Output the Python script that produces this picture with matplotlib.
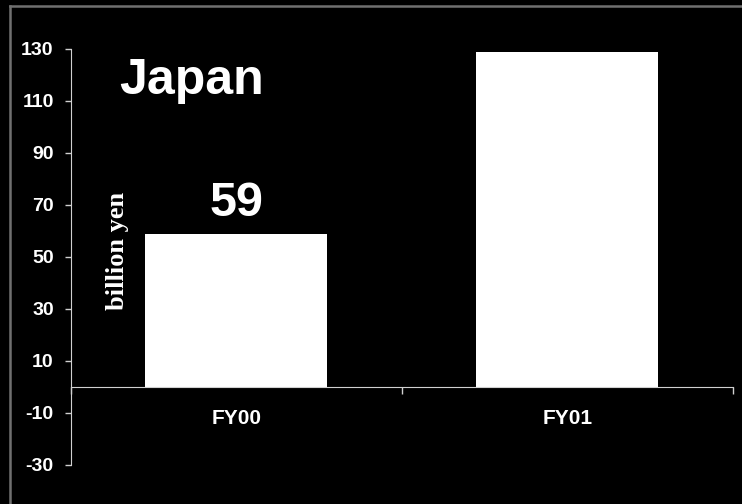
import numpy as np
import matplotlib
matplotlib.use("Agg")
import matplotlib.pyplot as plt
from matplotlib.lines import Line2D

# data
categories = ["FY00", "FY01"]
values = [59, 129]
y_ticks = [-30, -10, 10, 30, 50, 70, 90, 110, 130]
title_text = "Japan"
unit_text = "billion yen"

plt.rcParams["font.family"] = ["Liberation Sans", "DejaVu Sans"]
plt.rcParams["font.weight"] = "bold"

fig = plt.figure(figsize=(7.42, 5.04), dpi=100, facecolor="black")
ax = fig.add_axes([0.0957, 0.0774, 0.892, 0.8254], facecolor="black")

x = np.arange(len(categories))
ax.bar(x, values, width=0.55, color="white", edgecolor="none", zorder=2)

axis_col = "#d0d0d0"
ax.set_xlim(-0.5, len(categories) - 0.5)
ax.set_ylim(-30, 130)

# y axis
ax.set_yticks(y_ticks)
ax.set_yticklabels([str(v) for v in y_ticks])
ax.tick_params(axis="y", colors=axis_col, length=4.5, width=1, pad=8,
               labelcolor="white", labelsize=14)

# x axis at zero, ticks at category boundaries, labels at centres
ax.spines["bottom"].set_position(("data", 0))
ax.set_xticks(np.arange(len(categories) + 1) - 0.5)
ax.set_xticklabels([])
ax.set_xticks(x, minor=True)
ax.set_xticklabels(categories, minor=True)
ax.tick_params(axis="x", which="major", colors=axis_col, length=5, width=1, direction="out")
ax.tick_params(axis="x", which="minor", length=0, pad=16, labelcolor="white", labelsize=15)
for lbl in ax.get_yticklabels() + ax.get_xticklabels(minor=True):
    lbl.set_fontweight("bold")

for s in ["top", "right"]:
    ax.spines[s].set_visible(False)
ax.spines["left"].set_color(axis_col)
ax.spines["bottom"].set_color(axis_col)

# value label over first bar
ax.annotate(str(values[0]), xy=(x[0], values[0]), xytext=(0, 12.5), textcoords="offset points",
            ha="center", va="baseline", color="white", fontsize=35, fontweight="bold")

ax.text(0.073, 0.892, title_text, transform=ax.transAxes, ha="left", va="baseline",
        color="white", fontsize=36, fontweight="bold")
ax.text(0.0702, 0.514, unit_text, transform=ax.transAxes, rotation=90, ha="center", va="center",
        color="white", fontsize=19, fontweight="bold", family=["Liberation Serif", "DejaVu Serif"])

# slide frame lines
fig.add_artist(Line2D([10 / 742, 10 / 742], [0, 1 - 6 / 504], color="#707070", lw=1.8,
                      transform=fig.transFigure))
fig.add_artist(Line2D([10 / 742, 1], [1 - 6 / 504, 1 - 6 / 504], color="#707070", lw=1.8,
                      transform=fig.transFigure))

fig.savefig("out.png", dpi=100, facecolor="black")
